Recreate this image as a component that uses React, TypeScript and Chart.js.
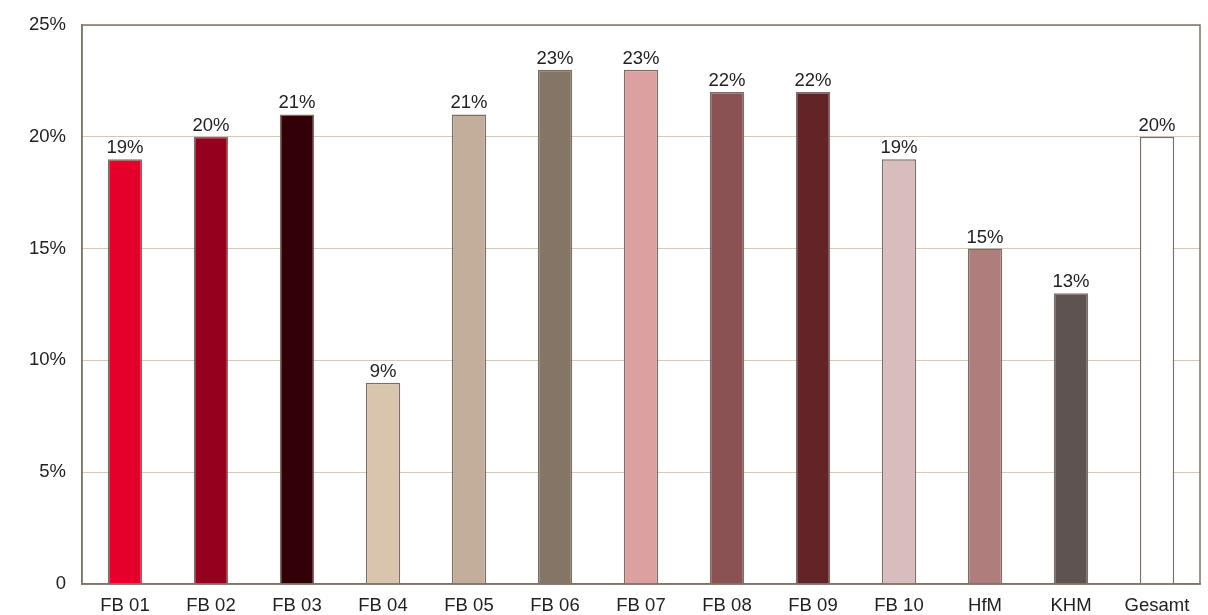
import React, { useEffect, useRef } from "react";
import { Chart, registerables } from "chart.js";

Chart.register(...registerables);

const categories = ["FB 01", "FB 02", "FB 03", "FB 04", "FB 05", "FB 06", "FB 07", "FB 08", "FB 09", "FB 10", "HfM", "KHM", "Gesamt"];
const values = [19, 20, 21, 9, 21, 23, 23, 22, 22, 19, 15, 13, 20];
const barColors = ["#e4002b", "#95001f", "#330008", "#d9c5ae", "#c2ae9b", "#847567", "#dca0a0", "#8b5254", "#622427", "#d8bdbf", "#b07d7d", "#5e5350", "#ffffff"];
const yTicks = [0, 5, 10, 15, 20, 25];

const FONT = "'Liberation Sans', Arial, sans-serif";
const FONT_SIZE = 18.5;

const framePlugin = {
  id: "frame",
  afterDatasetsDraw(chart: any) {
    const { ctx, chartArea } = chart;
    ctx.save();
    ctx.strokeStyle = "#7f7468";
    ctx.lineWidth = 1.5;
    ctx.strokeRect(chartArea.left, chartArea.top, chartArea.right - chartArea.left, chartArea.bottom - chartArea.top);
    ctx.restore();
  },
};

const labelPlugin = {
  id: "valueLabels",
  afterDatasetsDraw(chart: any) {
    const { ctx } = chart;
    const meta = chart.getDatasetMeta(0);
    ctx.save();
    ctx.font = `${FONT_SIZE}px ${FONT}`;
    ctx.fillStyle = "#222222";
    ctx.textAlign = "center";
    ctx.textBaseline = "alphabetic";
    meta.data.forEach((bar: any, i: number) => {
      ctx.fillText(values[i] + "%", bar.x, bar.y - 6);
    });
    ctx.restore();
  },
};

export default function App() {
  const ref = useRef<HTMLCanvasElement>(null);
  useEffect(() => {
    document.body.style.margin = "0";
    const chart = new Chart(ref.current!, {
      type: "bar",
      data: {
        labels: categories,
        datasets: [
          {
            data: values,
            backgroundColor: barColors,
            borderColor: "#7a6e66",
            borderWidth: 1.5,
            categoryPercentage: 1,
            barPercentage: 0.4,
          },
        ],
      },
      options: {
        animation: false,
        responsive: false,
        maintainAspectRatio: false,
        layout: { padding: { top: 25, right: 8, left: 0, bottom: 0 } },
        plugins: { legend: { display: false }, tooltip: { enabled: false } },
        scales: {
          x: {
            grid: { display: false, drawTicks: false },
            border: { display: true, color: "#7f7468", width: 1.5 },
            ticks: { color: "#222222", font: { family: FONT, size: FONT_SIZE }, padding: 11, maxRotation: 0, autoSkip: false },
            afterFit: (s: any) => { s.height = 31; s.paddingLeft = 0; s.paddingRight = 0; },
          },
          y: {
            min: 0,
            max: 25,
            afterBuildTicks: (s: any) => { s.ticks = yTicks.map((v) => ({ value: v })); },
            grid: { color: "#d8c8b8", lineWidth: 1, drawTicks: false },
            border: { display: true, color: "#7f7468", width: 1.5 },
            ticks: {
              color: "#222222",
              font: { family: FONT, size: FONT_SIZE },
              padding: 16,
              callback: (v: any) => (Number(v) === 0 ? "0" : v + "%"),
            },
            afterFit: (s: any) => { s.width = 82; s.paddingTop = 0; s.paddingBottom = 0; },
          },
        },
      },
      plugins: [framePlugin, labelPlugin],
    });
    return () => chart.destroy();
  }, []);
  return (
    <div style={{ width: 1208, height: 615 }}>
      <canvas ref={ref} width={1208} height={615} style={{ width: 1208, height: 615, display: "block" }} />
    </div>
  );
}
